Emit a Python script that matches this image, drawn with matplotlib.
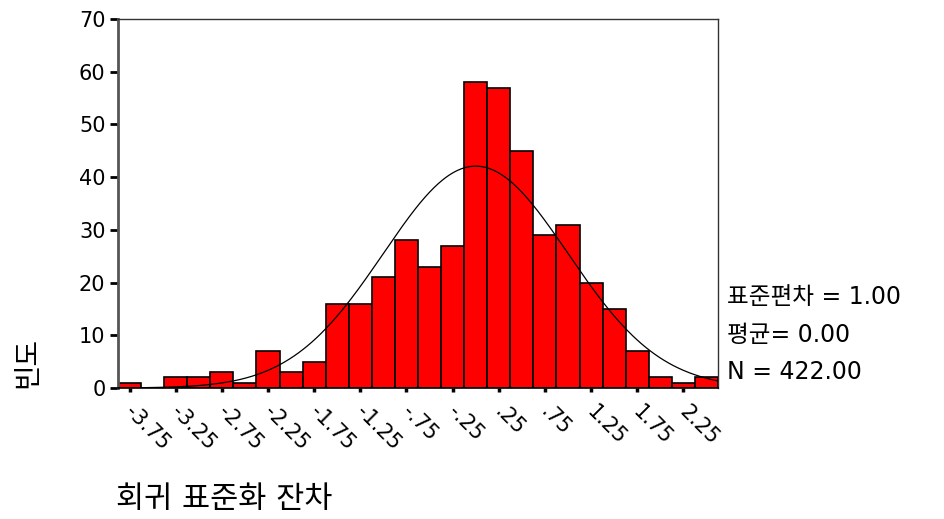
import numpy as np
import matplotlib
matplotlib.use("Agg")
import matplotlib.pyplot as plt
from matplotlib.transforms import ScaledTranslation

plt.rcParams['font.family'] = ['DejaVu Sans', 'Noto Sans CJK KR']

# Data: bin centers (width 0.25) and frequencies
bin_centers = [-3.75, -3.5, -3.25, -3.0, -2.75, -2.5, -2.25, -2.0, -1.75, -1.5,
               -1.25, -1.0, -0.75, -0.5, -0.25, 0.0, 0.25, 0.5, 0.75, 1.0,
               1.25, 1.5, 1.75, 2.0, 2.25, 2.5]
counts = [1, 0, 2, 2, 3, 1, 7, 3, 5, 16,
          16, 21, 28, 23, 27, 58, 57, 45, 29, 31,
          20, 15, 7, 2, 1, 2]
bin_width = 0.25
tick_positions = [-3.75, -3.25, -2.75, -2.25, -1.75, -1.25, -0.75, -0.25,
                  0.25, 0.75, 1.25, 1.75, 2.25]
tick_labels = ['-3.75', '-3.25', '-2.75', '-2.25', '-1.75', '-1.25', '-.75', '-.25',
               '.25', '.75', '1.25', '1.75', '2.25']
std_dev = 1.00
mean = 0.00
n_total = 422.00
stats_labels = [f"표준편차 = {std_dev:.2f}", f"평균= {mean:.2f}", f"N = {n_total:.2f}"]

fig = plt.figure(figsize=(9.45, 5.19), dpi=100)
ax = fig.add_axes([118/945, 1 - 388/519, 600/945, 369/519])

ax.bar(bin_centers, counts, width=bin_width, color='#ff0000',
       edgecolor='black', linewidth=1.2, zorder=2)

# fitted normal curve
xs = np.linspace(-3.875, 2.625, 400)
ys = n_total * bin_width * np.exp(-0.5 * ((xs - mean) / std_dev) ** 2) / (std_dev * np.sqrt(2 * np.pi))
ax.plot(xs, ys, color='black', linewidth=0.9, zorder=3)

ax.set_xlim(-3.875, 2.625)
ax.set_ylim(0, 70)
ax.set_yticks(range(0, 71, 10))
ax.tick_params(axis='y', labelsize=15, length=6, width=2, color='black', pad=3)
ax.set_xticks(tick_positions)
ax.set_xticklabels(tick_labels, rotation=-45, ha='left', va='top',
                   rotation_mode='anchor', fontsize=15)
ax.tick_params(axis='x', length=3, width=2.5, color='black', pad=7)
for lab in ax.get_xticklabels():
    lab.set_transform(lab.get_transform() + ScaledTranslation(0.06, 0, fig.dpi_scale_trans))

for s in ['top', 'right']:
    ax.spines[s].set_linewidth(1.0)
    ax.spines[s].set_color('#333333')
ax.spines['left'].set_linewidth(2.0)
ax.spines['left'].set_color('#555555')
ax.spines['bottom'].set_linewidth(1.2)
ax.spines['bottom'].set_color('black')

# stats text
for i, t in enumerate(stats_labels):
    fig.text(727/945, 1 - (297 + i * 37.5)/519, t, fontsize=17, ha='left', va='center')

fig.text(27/945, 1 - 362/519, '빈도', fontsize=20, rotation=90, ha='center', va='center')
fig.text(116/945, 1 - 500/519, '회귀 표준화 잔차', fontsize=22, ha='left', va='center')

fig.savefig('out.png', dpi=100)
